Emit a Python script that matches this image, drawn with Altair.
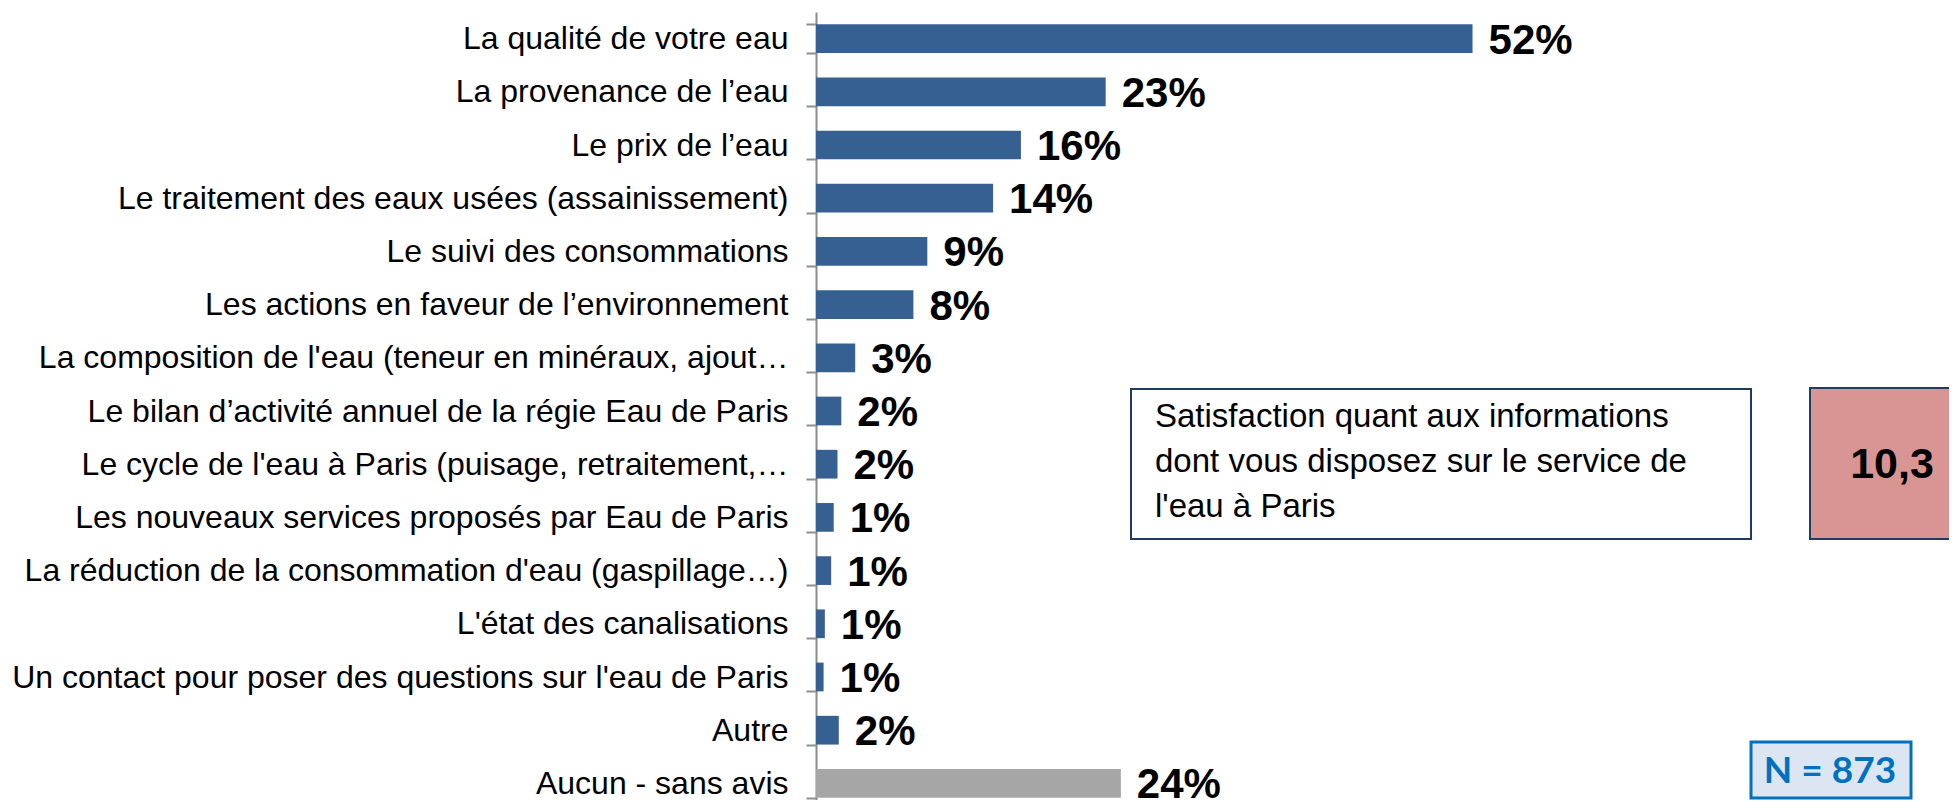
import altair as alt
import pandas as pd

categories = [
    "La qualité de votre eau",
    "La provenance de l’eau",
    "Le prix de l’eau",
    "Le traitement des eaux usées (assainissement)",
    "Le suivi des consommations",
    "Les actions en faveur de l’environnement",
    "La composition de l'eau (teneur en minéraux, ajout…",
    "Le bilan d’activité annuel de la régie Eau de Paris",
    "Le cycle de l'eau à Paris (puisage, retraitement,…",
    "Les nouveaux services proposés par Eau de Paris",
    "La réduction de la consommation d'eau (gaspillage…)",
    "L'état des canalisations",
    "Un contact pour poser des questions sur l'eau de Paris",
    "Autre",
    "Aucun - sans avis",
]
values = [51.9, 22.9, 16.2, 14.0, 8.8, 7.7, 3.1, 2.0, 1.7, 1.4, 1.2, 0.7, 0.6, 1.8, 24.1]
groups = ["cité"] * 14 + ["aucun"]

box_text = "Satisfaction quant aux informations\ndont vous disposez sur le service de\nl'eau à Paris"
score_text = "10,3"
n_text = "N = 873"

df = pd.DataFrame({"cat": categories, "value": values, "group": groups})

W = 1133
H = 788
PX_PER_PCT = 12.65
STEP = 53.2

yenc = alt.Y(
    "cat:N",
    sort=categories,
    scale=alt.Scale(range=[0, STEP * len(categories)], paddingInner=0.46, paddingOuter=0.23),
    axis=alt.Axis(
        title=None,
        labelFont="Liberation Sans",
        labelFontSize=32,
        labelColor="#000000",
        labelLimit=0,
        labelPadding=18,
        labelBaseline="middle",
        tickSize=10,
        tickWidth=2,
        tickColor="#8C8C8C",
        tickBand="extent",
        domainColor="#8C8C8C",
        domainWidth=2,
        grid=False,
    ),
)
xenc = alt.X(
    "value:Q",
    scale=alt.Scale(domain=[0, W / PX_PER_PCT], nice=False, zero=True),
    axis=None,
)

base = alt.Chart(df)

bars = base.mark_bar().encode(
    y=yenc,
    x=xenc,
    color=alt.Color(
        "group:N",
        scale=alt.Scale(domain=["cité", "aucun"], range=["#376092", "#A6A6A6"]),
        legend=None,
    ),
)

labels = (
    base.transform_calculate(label="format(datum.value, '.0f') + '%'")
    .mark_text(
        align="left",
        baseline="alphabetic",
        dx=16,
        dy=15,
        font="Liberation Sans",
        fontWeight="bold",
        fontSize=42,
        color="#000000",
    )
    .encode(y=yenc, x=xenc, text="label:N")
)

one = pd.DataFrame({"t": [box_text], "s": [score_text], "n": [n_text]})
ann = alt.Chart(one)

box1 = ann.mark_rect(fill="#FFFFFF", stroke="#1F3B63", strokeWidth=2).encode(
    x=alt.value(315), x2=alt.value(935), y=alt.value(377), y2=alt.value(527)
)
box1_text = ann.mark_text(
    align="left",
    baseline="alphabetic",
    lineBreak="\n",
    lineHeight=45,
    font="Liberation Sans",
    fontSize=33,
    color="#000000",
).encode(x=alt.value(339), y=alt.value(415), text="t:N")

box2 = ann.mark_rect(fill="#D99594", stroke="#1F3B63", strokeWidth=2).encode(
    x=alt.value(994), x2=alt.value(1150), y=alt.value(376), y2=alt.value(527)
)
box2_text = ann.mark_text(
    align="center",
    baseline="alphabetic",
    font="Liberation Sans",
    fontWeight="bold",
    fontSize=43,
    color="#000000",
).encode(x=alt.value(1076), y=alt.value(466), text="s:N")

nbox = ann.mark_rect(fill="#DCE6F2", stroke="#0070C0", strokeWidth=3).encode(
    x=alt.value(935), x2=alt.value(1095), y=alt.value(730), y2=alt.value(786)
)
nbox_text = ann.mark_text(
    align="center",
    baseline="alphabetic",
    font="Lato",
    fontWeight="bold",
    fontSize=37,
    color="#0070C0",
).encode(x=alt.value(1014), y=alt.value(771), text="n:N")

chart = (
    alt.layer(bars, labels, box1, box1_text, box2, box2_text, nbox, nbox_text)
    .properties(
        width=W,
        height=H,
        padding={"left": 808, "top": 4, "right": 0, "bottom": 0},
        autosize=alt.AutoSizeParams(type="none"),
        background="#FFFFFF",
    )
    .configure_view(stroke=None)
)

chart.save("out.html", embed_options={"renderer": "svg", "actions": False})
